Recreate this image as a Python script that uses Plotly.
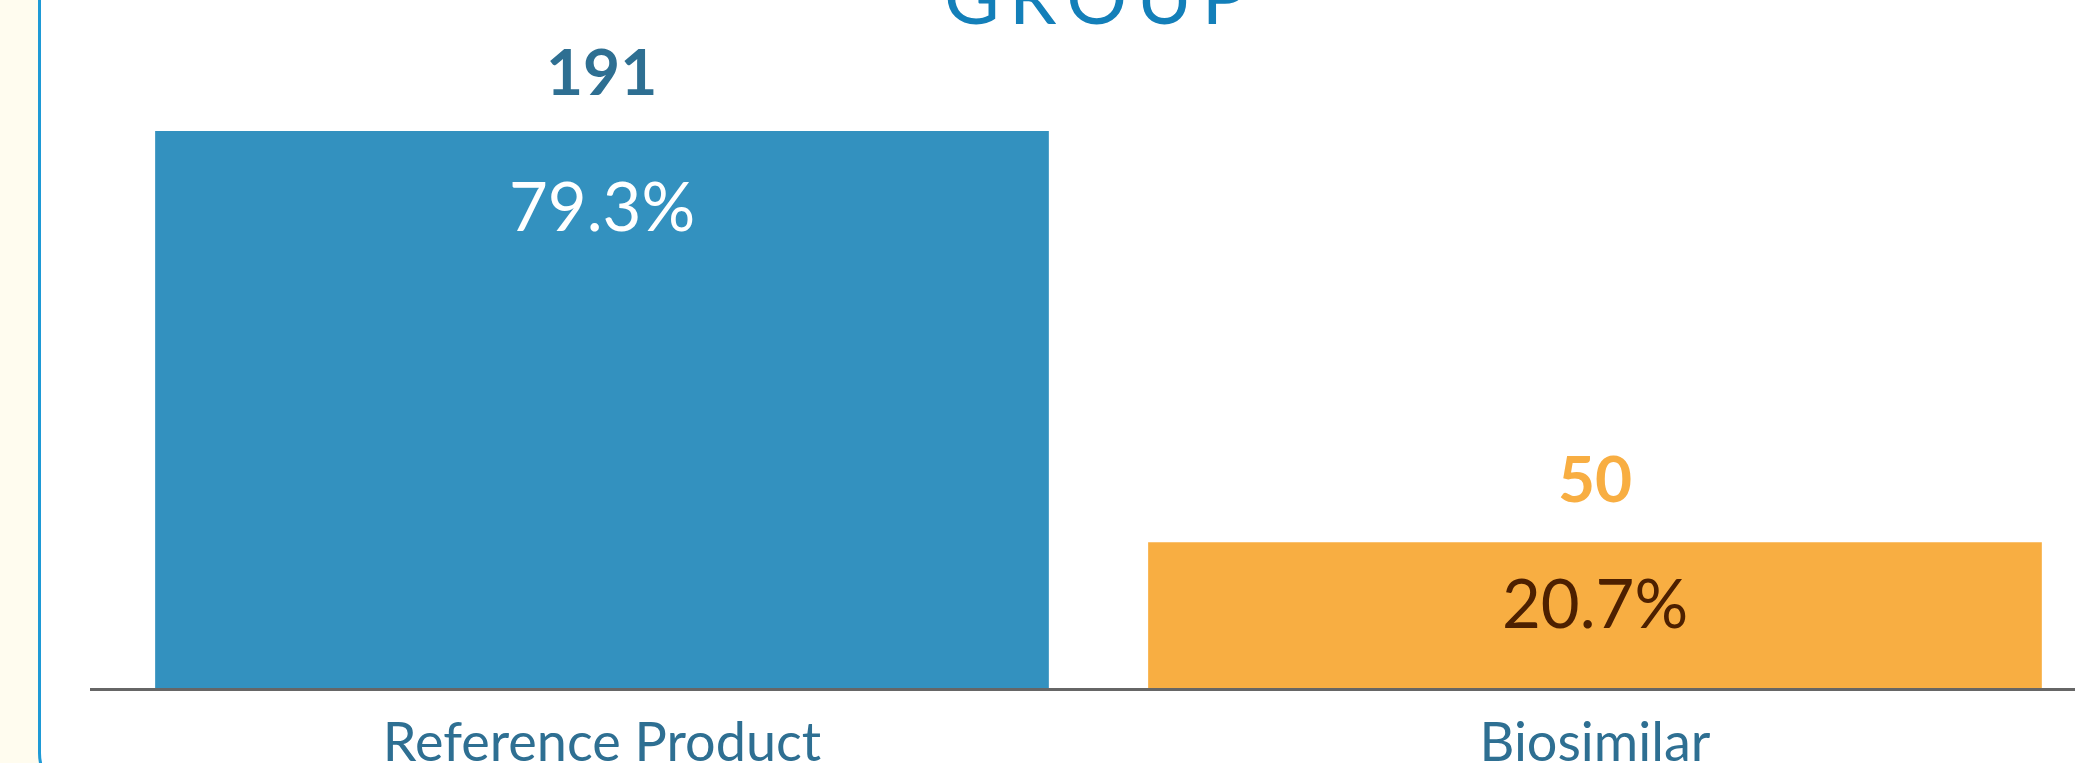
import plotly.graph_objects as go

# ---- data ----
categories = ["Reference Product", "Biosimilar"]
counts = [191, 50]
percents = [79.3, 20.7]
title_text = "GROUP"

# ---- style ----
W, H = 2075, 763
L, R, T, B = 90, 0, 0, 75
PW, PH = W - L - R, H - T - B
FONT = "Lato"
bar_colors = ["#3391bf", "#f8ae42"]
count_colors = ["#2e6f92", "#f8ae42"]
pct_colors = ["#ffffff", "#4d2000"]
count_shift = [20, 24]
pct_shift = [-32, -18]


def px_x(p):
    return (p - L) / PW


def px_y(q):
    return (H - B - q) / PH


fig = go.Figure()
fig.add_trace(go.Bar(
    x=categories, y=counts, width=0.9,
    marker=dict(color=bar_colors, line=dict(width=0)),
    hoverinfo="skip", showlegend=False,
))

annotations = []
for cat, c, p, cc, pc, cs, ps in zip(categories, counts, percents, count_colors,
                                     pct_colors, count_shift, pct_shift):
    annotations.append(dict(
        x=cat, y=c, xref="x", yref="y", text=f"<b>{c}</b>", showarrow=False,
        yanchor="bottom", yshift=cs, font=dict(family=FONT, size=64, color=cc),
    ))
    annotations.append(dict(
        x=cat, y=c, xref="x", yref="y", text=f"{p:.1f}%", showarrow=False,
        yanchor="top", yshift=ps, font=dict(family=FONT, size=67, color=pc),
    ))

annotations.append(dict(
    x=px_x(1096), y=px_y(27), xref="paper", yref="paper",
    text="\u2009".join(title_text), showarrow=False, xanchor="center",
    yanchor="bottom", yshift=-15,
    font=dict(family=FONT, size=76, color="#137fb9"),
))

# rounded border panel
bx, r, yc = 39.5, 30, 783
path = (f"M {px_x(bx)},{px_y(-20)} L {px_x(bx)},{px_y(yc - r)} "
        f"Q {px_x(bx)},{px_y(yc)} {px_x(bx + r)},{px_y(yc)} "
        f"L {px_x(W + 20)},{px_y(yc)} L {px_x(W + 20)},{px_y(-20)} Z")
shapes = [dict(type="path", path=path, xref="paper", yref="paper",
               fillcolor="#ffffff", line=dict(color="#1e9ad6", width=3), layer="below")]

fig.update_layout(
    width=W, height=H,
    margin=dict(l=L, r=R, t=T, b=B, autoexpand=False),
    paper_bgcolor="#fffcef", plot_bgcolor="rgba(0,0,0,0)",
    bargap=0.1,
    annotations=annotations, shapes=shapes,
    xaxis=dict(
        range=[-0.5156, 1.4834], showgrid=False, zeroline=False,
        showline=True, linecolor="#666666", linewidth=2.5,
        ticks="outside", ticklen=5, tickcolor="rgba(0,0,0,0)",
        tickfont=dict(family=FONT, size=54, color="#2e6f92"),
        automargin=False, fixedrange=True,
    ),
    yaxis=dict(range=[0, 235.9], visible=False, fixedrange=True),
    showlegend=False,
)

fig.write_html("out.html")
